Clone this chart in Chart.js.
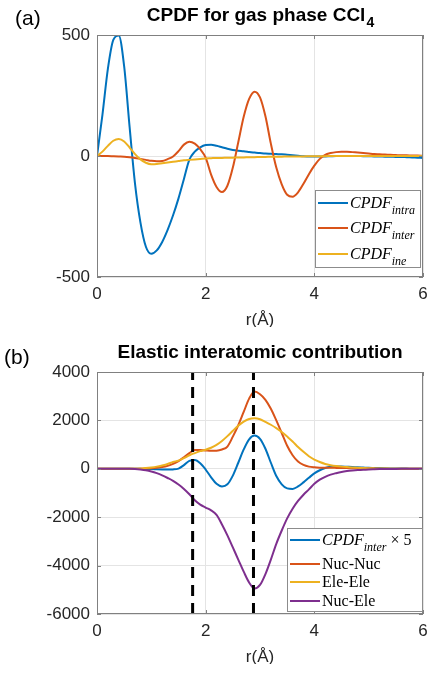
<!DOCTYPE html>
<html>
<head>
<meta charset="utf-8">
<script src="https://cdn.jsdelivr.net/npm/chart.js@4.4.1/dist/chart.umd.min.js"></script>
<style>
html, body { margin: 0; padding: 0; background: #fff; }
#wrap { position: relative; width: 436px; height: 677px; overflow: hidden; }
canvas { position: absolute; left: 0; }
</style>
</head>
<body>
<div id="wrap">
  <canvas id="chartA" width="436" height="327" style="top:0px"></canvas>
  <canvas id="chartB" width="436" height="324" style="top:340px"></canvas>
</div>
<script>
// r grid (Å)
const rValues = [0, 0.1, 0.2, 0.3, 0.4, 0.5, 0.6, 0.7, 0.8, 0.9,
  1, 1.1, 1.2, 1.3, 1.4, 1.5, 1.6, 1.7, 1.8, 1.9,
  2, 2.1, 2.2, 2.3, 2.4, 2.5, 2.6, 2.7, 2.8, 2.9,
  3, 3.1, 3.2, 3.3, 3.4, 3.5, 3.6, 3.7, 3.8, 3.9,
  4, 4.1, 4.2, 4.3, 4.4, 4.5, 4.6, 4.7, 4.8, 4.9,
  5, 5.1, 5.2, 5.3, 5.4, 5.5, 5.6, 5.7, 5.8, 5.9, 6];

// panel (a)
const cpdfIntra = [0, 170, 360, 480, 498, 370, 120, -115, -275, -375,
  -404, -390, -355, -305, -245, -175, -95, -15, 18, 36,
  45, 46, 42, 36, 30, 25, 22, 20, 17, 14,
  12, 10, 9, 8, 7, 5, 3, 1, -1, -2,
  -2, -2, -2, -1, 0, 0, 0, 0, 0, -1,
  -1, -2, -2, -3, -3, -4, -4, -5, -6, -7, -8];
const cpdfInter = [0, 0, 0, -1, -2, -3, -5, -8, -12, -16,
  -20, -22, -21, -13, -2, 20, 47, 59, 51, 28,
  -7, -77, -128, -149, -123, -48, 57, 162, 236, 266,
  242, 164, 51, -48, -117, -160, -168, -150, -115, -75,
  -40, -12, 5, 12, 16, 18, 18, 16, 14, 12,
  10, 8, 7, 6, 5, 4, 3, 3, 2, 2, 1];
const cpdfIne = [0, 18, 42, 63, 70, 60, 35, 8, -14, -28,
  -34, -33, -30, -27, -24, -21, -18, -16, -14, -12,
  -10, -9, -8, -8, -7, -7, -6, -6, -5, -5,
  -4, -4, -3, -3, -3, -2, -2, -2, -2, -1,
  -1, -1, -1, 0, 0, 0, 0, 0, 0, 0,
  0, 0, 0, 0, 0, 0, 0, 0, 0, 0, 0];

// panel (b)
const interX5 = [0, 0, 0, 0, 0, 0, 0, 0, -3, -6,
  -10, -18, -25, -30, -25, 10, 150, 330, 360, 230,
  -30, -350, -620, -730, -640, -280, 250, 800, 1220, 1375,
  1240, 830, 250, -300, -640, -810, -830, -730, -560, -370,
  -190, -60, 30, 80, 95, 95, 85, 75, 62, 52,
  42, 35, 28, 22, 17, 13, 10, 8, 6, 4, 3];
const nucNuc = [0, 0, 0, 0, 0, 0, 0, 0, 5, 10,
  20, 40, 70, 120, 200, 320, 480, 650, 780, 780,
  760, 745, 750, 800, 920, 1330, 1800, 2350, 2900, 3190,
  3080, 2850, 2480, 2000, 1480, 950, 560, 300, 160, 90,
  60, 45, 40, 40, 38, 35, 30, 25, 20, 16,
  12, 9, 7, 5, 4, 3, 2, 1, 1, 0, 0];
const eleEle = [0, 0, 0, 0, 0, 0, 0, 5, 15, 30,
  55, 90, 140, 200, 280, 340, 440, 560, 650, 730,
  790, 870, 990, 1150, 1350, 1570, 1780, 1950, 2060, 2090,
  2050, 1940, 1820, 1680, 1520, 1330, 1130, 900, 700, 520,
  380, 280, 200, 150, 115, 90, 70, 55, 42, 32,
  24, 18, 13, 10, 7, 5, 4, 3, 2, 1, 0];
const nucEle = [0, 0, 0, 0, 0, 0, 0, -10, -30, -60,
  -110, -180, -270, -380, -500, -650, -830, -1050, -1300, -1480,
  -1600, -1720, -1900, -2300, -2750, -3250, -3750, -4250, -4700, -4950,
  -4800, -4350, -3750, -3100, -2550, -2050, -1650, -1330, -1070, -850,
  -620, -450, -330, -240, -180, -130, -95, -70, -50, -35,
  -25, -18, -12, -8, -6, -4, -3, -2, -1, 0, 0];

const dashR = [1.76, 2.88];

const xTicks = [0, 2, 4, 6];
const yTicksA = [-500, 0, 500];
const yTicksB = [-6000, -4000, -2000, 0, 2000, 4000];

const legendA = ['CPDF_intra', 'CPDF_inter', 'CPDF_ine'];
const legendB = ['CPDF_inter \u00d7 5', 'Nuc-Nuc', 'Ele-Ele', 'Nuc-Ele'];

const BLUE = '#0072bd', ORANGE = '#d95319', YELLOW = '#edb120', PURPLE = '#7e2f8e';
const SANS = '"Liberation Sans", Arial, sans-serif';
const SERIF = '"Liberation Serif", "Times New Roman", serif';

function pts(vals) {
  return rValues.map((r, i) => ({ x: r, y: vals[i] }));
}

function series(label, vals, color, i) {
  return {
    label, data: pts(vals), borderColor: color, borderWidth: 2,
    pointRadius: 0, fill: false, cubicInterpolationMode: 'monotone',
    order: 20 - i
  };
}

function scales(yTicks) {
  const axis = (ticks, fit) => ({
    type: 'linear',
    min: ticks[0],
    max: ticks[ticks.length - 1],
    afterBuildTicks: s => { s.ticks = ticks.map(v => ({ value: v })); },
    afterFit: fit,
    grid: { color: '#e4e4e4', drawTicks: false, lineWidth: 1 },
    border: { display: false },
    ticks: {
      font: { family: SANS, size: 17 }, color: '#262626', maxRotation: 0,
      padding: 7, callback: v => String(v)
    }
  });
  return {
    x: axis(xTicks, s => { s.height = 50; }),
    y: axis(yTicks, s => { s.width = 97; })
  };
}

function drawLabel(ctx, text, x, y) {
  // "MAIN_sub rest" -> italic main with subscript, then upright rest
  let m = text.match(/^([^_]+)_(\S+)(.*)$/);
  if (!m) {
    ctx.font = '16px ' + SERIF;
    ctx.fillText(text, x, y);
    return;
  }
  ctx.font = 'italic 16px ' + SERIF;
  ctx.fillText(m[1], x, y);
  x += ctx.measureText(m[1]).width;
  ctx.font = 'italic 12px ' + SERIF;
  ctx.fillText(m[2], x, y + 6);
  x += ctx.measureText(m[2]).width;
  if (m[3]) {
    ctx.font = '16px ' + SERIF;
    ctx.fillText(m[3], x, y);
  }
}

const decor = {
  id: 'decor',
  afterDatasetsDraw(chart, args, o) {
    const { ctx, chartArea: a } = chart;
    const sx = chart.scales.x, sy = chart.scales.y;
    ctx.save();
    // axes box + inner ticks
    ctx.strokeStyle = '#808080';
    ctx.lineWidth = 1;
    ctx.strokeRect(a.left + 0.5, a.top + 0.5, a.right - a.left - 1, a.bottom - a.top - 1);
    ctx.beginPath();
    xTicks.forEach(v => {
      const px = Math.round(sx.getPixelForValue(v)) + 0.5;
      ctx.moveTo(px, a.bottom); ctx.lineTo(px, a.bottom - 4);
      ctx.moveTo(px, a.top); ctx.lineTo(px, a.top + 4);
    });
    o.yTicks.forEach(v => {
      const py = Math.round(sy.getPixelForValue(v)) + 0.5;
      ctx.moveTo(a.left, py); ctx.lineTo(a.left + 4, py);
      ctx.moveTo(a.right, py); ctx.lineTo(a.right - 4, py);
    });
    ctx.stroke();

    // legend
    const L = o.legend;
    ctx.fillStyle = '#fff';
    ctx.fillRect(L.x, L.y, L.w, L.h);
    ctx.strokeStyle = '#8c8c8c';
    ctx.strokeRect(L.x + 0.5, L.y + 0.5, L.w - 1, L.h - 1);
    o.labels.forEach((lab, i) => {
      const ds = chart.data.datasets[i];
      const ly = L.y + L.rows[i];
      ctx.strokeStyle = ds.borderColor;
      ctx.lineWidth = 2;
      ctx.beginPath();
      ctx.moveTo(L.x + 3, ly); ctx.lineTo(L.x + 33, ly);
      ctx.stroke();
      ctx.fillStyle = '#000';
      ctx.textAlign = 'left';
      ctx.textBaseline = 'alphabetic';
      drawLabel(ctx, lab, L.x + 35, ly + L.base);
    });

    // title with optional subscript
    ctx.fillStyle = '#000';
    ctx.textBaseline = 'alphabetic';
    ctx.textAlign = 'left';
    ctx.font = 'bold 19px ' + SANS;
    const w1 = ctx.measureText(o.title[0]).width;
    ctx.font = 'bold 14px ' + SANS;
    const w2 = o.title[1] ? ctx.measureText(o.title[1]).width : 0;
    const tx = (a.left + a.right) / 2 - (w1 + w2) / 2;
    ctx.font = 'bold 19px ' + SANS;
    ctx.fillText(o.title[0], tx, a.top - 14);
    if (o.title[1]) {
      ctx.font = 'bold 14px ' + SANS;
      ctx.fillText(o.title[1], tx + w1 + 1, a.top - 8);
    }

    // panel tag
    ctx.font = '21px ' + SANS;
    ctx.fillText(o.tag, o.tagX, o.tagY);

    // x label
    ctx.fillStyle = '#262626';
    ctx.textAlign = 'center';
    ctx.font = '17px ' + SANS;
    ctx.fillText('r(\u00c5)', (a.left + a.right) / 2, a.bottom + 48);
    ctx.restore();
  }
};

function makeChart(id, datasets, yTicks, padTop, deco) {
  return new Chart(document.getElementById(id), {
    type: 'line',
    data: { datasets },
    options: {
      responsive: false,
      animation: false,
      devicePixelRatio: 1,
      events: [],
      layout: { padding: { left: 0, right: 13, top: padTop, bottom: 0 } },
      scales: scales(yTicks),
      plugins: { legend: { display: false }, tooltip: { enabled: false }, decor: deco }
    },
    plugins: [decor]
  });
}

makeChart('chartA', [
  series(legendA[0], cpdfIntra, BLUE, 0),
  series(legendA[1], cpdfInter, ORANGE, 1),
  series(legendA[2], cpdfIne, YELLOW, 2)
], yTicksA, 35, {
  yTicks: yTicksA,
  labels: legendA,
  title: ['CPDF for gas phase CCl', '4'],
  tag: '(a)', tagX: 15, tagY: 25,
  legend: { x: 315, y: 190, w: 106, h: 78, rows: [13, 38, 64], base: 5 }
});

const dashSets = dashR.map((r, i) => ({
  label: 'dash' + i,
  data: [{ x: r, y: yTicksB[0] }, { x: r, y: yTicksB[yTicksB.length - 1] }],
  borderColor: '#000', borderWidth: 3, borderDash: [11, 7],
  pointRadius: 0, fill: false, order: 0
}));

makeChart('chartB', [
  series(legendB[0], interX5, BLUE, 0),
  series(legendB[1], nucNuc, ORANGE, 1),
  series(legendB[2], eleEle, YELLOW, 2),
  series(legendB[3], nucEle, PURPLE, 3)
].concat(dashSets), yTicksB, 32, {
  yTicks: yTicksB,
  labels: legendB,
  title: ['Elastic interatomic contribution', ''],
  tag: '(b)', tagX: 4, tagY: 24,
  legend: { x: 287, y: 188, w: 136, h: 84, rows: [12, 36, 54, 73], base: 5 }
});
</script>
</body>
</html>
